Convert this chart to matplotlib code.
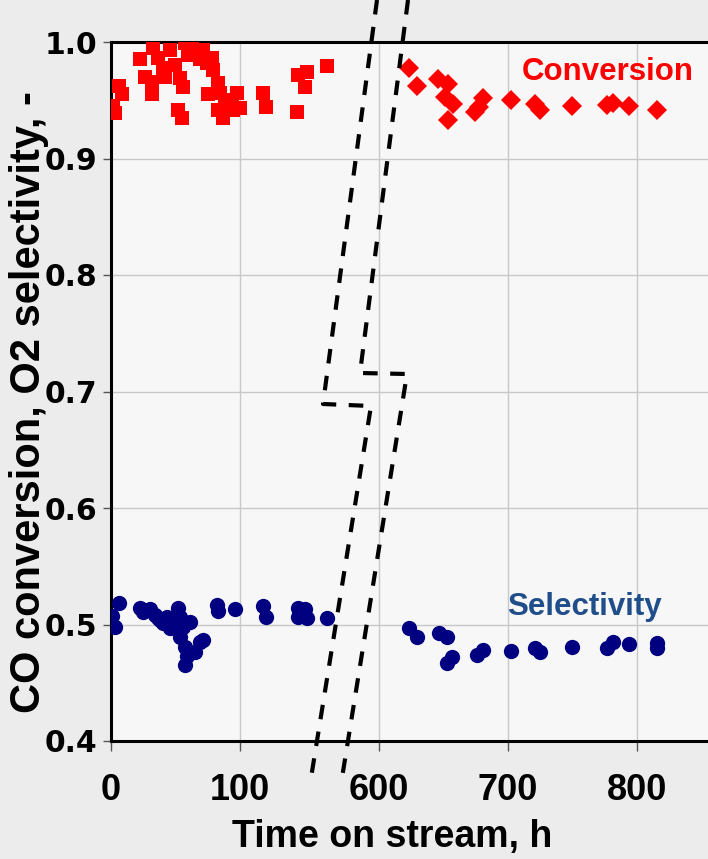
import matplotlib
matplotlib.use('Agg')
import matplotlib.pyplot as plt
from matplotlib.lines import Line2D

# ---- data (time on stream in h, value) ----
conv_t_early = [22.5, 6.2, 8.5, 1.6, 3.1, 26.4, 31.8, 31.8, 32.6, 36.4, 40.3, 41.9,
                45.7, 53.5, 55.8, 51.9, 55.0, 57.4, 62.8, 66.7, 71.3, 74.4, 78.3,
                79.1, 82.9, 75.2, 84.5, 82.9, 86.8, 88.4, 93.8, 97.7, 100.0, 94.6,
                117.8, 120.2, 145.0, 152.0, 150.4, 144.2, 167.4, 59.7, 69.0, 49.6, 90.7]
conv_v_early = [0.985, 0.962, 0.955, 0.945, 0.939, 0.970, 0.966, 0.955, 0.995, 0.986,
                0.978, 0.970, 0.993, 0.969, 0.961, 0.942, 0.935, 0.999, 0.999, 0.991,
                0.993, 0.982, 0.986, 0.976, 0.965, 0.955, 0.956, 0.942, 0.935, 0.950,
                0.950, 0.956, 0.943, 0.942, 0.956, 0.944, 0.972, 0.974, 0.961, 0.940,
                0.979, 0.989, 0.985, 0.980, 0.946]

conv_t_late = [623.3, 629.5, 645.7, 653.5, 651.2, 657.4, 653.5, 674.4, 680.6, 677.5,
               702.3, 720.9, 724.8, 749.6, 776.7, 781.4, 793.8, 815.5]
conv_v_late = [0.978, 0.962, 0.968, 0.964, 0.953, 0.947, 0.933, 0.940, 0.952, 0.944,
               0.950, 0.947, 0.942, 0.945, 0.946, 0.948, 0.945, 0.942]

sel_t_early = [6.2, 0.8, 3.1, 22.5, 30.2, 34.1, 38.0, 40.3, 43.4, 45.7, 51.9, 53.5,
               61.2, 49.6, 53.5, 57.4, 69.0, 65.1, 58.9, 57.4, 82.2, 82.9, 96.1,
               117.8, 120.2, 145.0, 150.4, 145.0, 151.9, 167.4, 24.8, 36.4, 44.2,
               55.8, 51.2, 71.3]
sel_v_early = [0.5185, 0.5073, 0.4979, 0.5142, 0.5133, 0.5082, 0.5039, 0.5013, 0.5064,
               0.4970, 0.5142, 0.5064, 0.5021, 0.4970, 0.4893, 0.4807, 0.4850, 0.4764,
               0.4730, 0.4652, 0.5167, 0.5116, 0.5133, 0.5159, 0.5064, 0.5142, 0.5133,
               0.5064, 0.5056, 0.5056, 0.5107, 0.5056, 0.5021, 0.4979, 0.5021, 0.4867]

sel_t_late = [623.3, 629.5, 646.5, 652.7, 656.6, 652.7, 676.0, 680.6, 702.3, 720.9,
              724.8, 749.6, 776.7, 781.4, 793.8, 815.5, 815.5]
sel_v_late = [0.4970, 0.4893, 0.4927, 0.4893, 0.4721, 0.4670, 0.4738, 0.4781, 0.4773,
              0.4798, 0.4764, 0.4807, 0.4798, 0.4850, 0.4833, 0.4841, 0.4798]

tick_hours = [0, 100, 600, 700, 800]
y_ticks = [0.4, 0.5, 0.6, 0.7, 0.8, 0.9, 1.0]

# broken time axis: hours 200..~590 are cut out
SHIFT = 392.25


def to_axis(t):
    return [h if h < 300 else h - SHIFT for h in t]


W, H = 708, 859
fig = plt.figure(figsize=(W / 100, H / 100), dpi=100, facecolor='#ececec')
ax = fig.add_axes([111 / W, 1 - 741 / H, 1 - 111 / W, (741 - 42) / H])
ax.set_facecolor('#f7f7f7')

ax.plot(to_axis(conv_t_early), conv_v_early, 's', color='#ff0000', ms=9.5, mew=0, zorder=3)
ax.plot(to_axis(conv_t_late), conv_v_late, 'D', color='#ff0000', ms=10.5, mew=0, zorder=3)
ax.plot(to_axis(sel_t_early), sel_v_early, 'o', color='#000080', ms=11, mew=0, zorder=3)
ax.plot(to_axis(sel_t_late), sel_v_late, 'o', color='#000080', ms=11, mew=0, zorder=3)

ax.set_xlim(0, (W - 111) / 1.29)
ax.set_ylim(0.4, 1.0)
ax.set_xticks(to_axis(tick_hours))
ax.set_xticklabels([str(h) for h in tick_hours])
ax.set_yticks(y_ticks)
ax.set_yticklabels(['%.1f' % v for v in y_ticks])

ax.grid(True, color='#c8c8c8', lw=1)
ax.set_axisbelow(True)
for s in ['left', 'bottom', 'top']:
    ax.spines[s].set_linewidth(2.2)
    ax.spines[s].set_color('black')
ax.spines['right'].set_visible(False)

sans = ['Liberation Sans', 'DejaVu Sans']
ax.tick_params(axis='x', length=7, width=1, color='#555555', pad=16)
ax.tick_params(axis='y', length=6, width=1, color='#555555', pad=4)
for lab in ax.get_xticklabels():
    lab.set_fontfamily(sans)
    lab.set_fontweight('bold')
    lab.set_fontsize(26)
for lab in ax.get_yticklabels():
    lab.set_fontfamily('DejaVu Sans')
    lab.set_fontweight('bold')
    lab.set_fontsize(21.5)

fig.text(392 / W, 1 - 837 / H, 'Time on stream, h', ha='center', va='center',
         family=sans, weight='bold', fontsize=27)
fig.text(29 / W, 1 - 402 / H, 'CO conversion, O2 selectivity, -', ha='center',
         va='center', rotation=90, family=sans, weight='bold', fontsize=30)

fig.text(522 / W, 1 - 72 / H, 'Conversion', ha='left', va='center',
         family=sans, weight='bold', fontsize=22.5, color='#ff0000')
fig.text(507 / W, 1 - 607 / H, 'Selectivity', ha='left', va='center',
         family=sans, weight='bold', fontsize=22.5, color='#1f4e8a')

# axis break marks (figure pixel coordinates)
path_left = [(377, 0), (323, 404), (371, 406), (311, 778)]
path_right = [(408, 0), (360, 373), (407, 374), (342, 778)]
for path in (path_left, path_right):
    xs = [p[0] / W for p in path]
    ys = [1 - p[1] / H for p in path]
    fig.add_artist(Line2D(xs, ys, transform=fig.transFigure, color='black',
                          lw=3, linestyle=(0, (3.5, 3)), zorder=10))

fig.savefig('out.png', dpi=100, facecolor=fig.get_facecolor())
